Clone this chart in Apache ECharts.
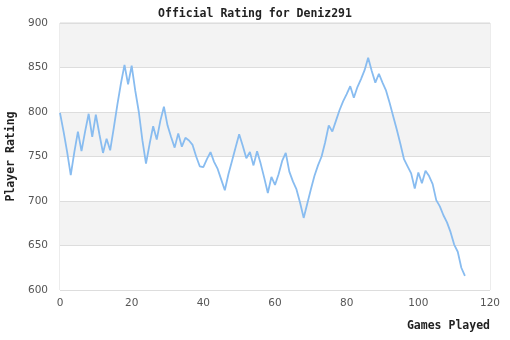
<!DOCTYPE html>
<html>
<head>
<meta charset="utf-8">
<script src="https://cdn.jsdelivr.net/npm/echarts@6/dist/echarts.min.js"></script>
<style>
  html, body { margin: 0; padding: 0; background: #ffffff; }
  #chart { width: 510px; height: 340px; }
</style>
</head>
<body>
<div id="chart"></div>
<script>
// Rating after each game played (game 0 .. 113)
const ratings = [
  799, 778, 755, 729, 755, 778, 756, 778, 798, 772,
  797, 775, 754, 770, 757, 782, 808, 832, 853, 831,
  852, 824, 800, 768, 742, 764, 784, 769, 790, 806,
  785, 772, 760, 776, 761, 771, 768, 763, 750, 739,
  738, 747, 755, 744, 736, 724, 712, 730, 745, 760,
  775, 762, 748, 755, 740, 756, 742, 726, 709, 727,
  718, 730, 745, 754, 733, 722, 713, 698, 681, 697,
  713, 728, 740, 750, 766, 785, 778, 790, 802, 812,
  820, 829, 816, 828, 837, 847, 861, 846, 833, 843,
  833, 824, 810, 795, 780, 764, 747, 739, 731, 714,
  732, 720, 734, 728, 719, 701, 694, 684, 676, 665,
  651, 643, 625, 616
];
const gameTicks = [0, 20, 40, 60, 80, 100, 120];
const ratingTicks = [600, 650, 700, 750, 800, 850, 900];

const points = ratings.map((r, i) => [i, r]);

const monoBold = {
  fontFamily: 'DejaVu Sans Mono',
  fontWeight: 'bold',
  fontSize: 11.5,
  color: '#222'
};

const chart = echarts.init(document.getElementById('chart'), null, { renderer: 'canvas' });
chart.setOption({
  animation: false,
  backgroundColor: '#ffffff',
  title: {
    text: 'Official Rating for Deniz291',
    left: 'center',
    top: 3,
    textStyle: monoBold
  },
  grid: {
    left: 60, right: 20, top: 23, bottom: 50,
    containLabel: false,
    outerBoundsMode: 'none',
    show: true,
    borderColor: '#d9d9d9',
    borderWidth: 1,
    backgroundColor: 'transparent'
  },
  xAxis: {
    type: 'value',
    min: gameTicks[0],
    max: gameTicks[gameTicks.length - 1],
    interval: 20,
    name: 'Games Played',
    nameLocation: 'end',
    nameGap: 0,
    nameTextStyle: Object.assign({}, monoBold, {
      align: 'right', verticalAlign: 'top', padding: [30, 0, 0, 0]
    }),
    axisLine: { show: false },
    axisTick: { show: false },
    splitLine: { show: false },
    axisLabel: {
      margin: 8,
      fontFamily: 'DejaVu Sans',
      fontSize: 10.5,
      color: '#555'
    }
  },
  yAxis: {
    type: 'value',
    min: ratingTicks[0],
    max: ratingTicks[ratingTicks.length - 1],
    interval: 50,
    name: 'Player Rating',
    nameLocation: 'middle',
    nameGap: 42,
    nameTextStyle: monoBold,
    axisLine: { show: false },
    axisTick: { show: false },
    splitLine: { show: true, lineStyle: { color: '#dddddd', width: 1 } },
    splitArea: { show: true, areaStyle: { color: ['#ffffff', '#f3f3f3'] } },
    axisLabel: {
      margin: 12,
      fontFamily: 'DejaVu Sans',
      fontSize: 10.5,
      color: '#555'
    }
  },
  series: [{
    type: 'line',
    data: points,
    showSymbol: false,
    symbol: 'none',
    smooth: false,
    lineStyle: { color: '#88bcf0', width: 1.8 }
  }]
});
</script>
</body>
</html>
